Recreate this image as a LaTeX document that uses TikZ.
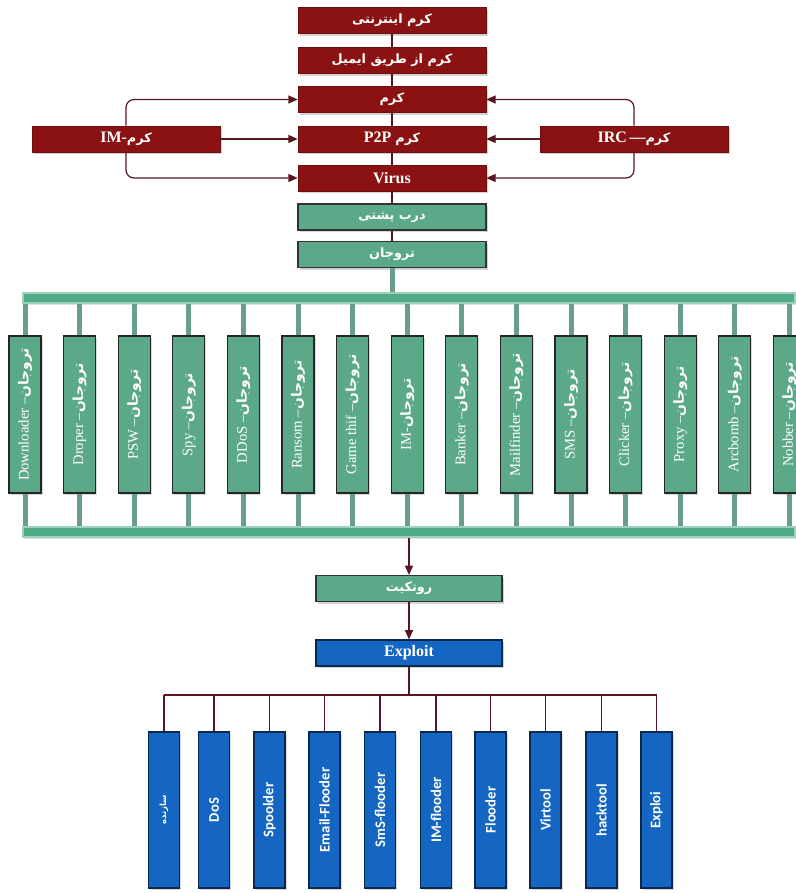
\documentclass[tikz,border=0pt]{standalone}
\usepackage{fontspec}
\usepackage{graphicx}
\setmainfont{Liberation Serif}
\newfontfamily\persfont[Script=Arabic,Scale=0.8]{DejaVu Sans}
\newfontfamily\toolfont{Carlito}
\TeXXeTstate=1
\usetikzlibrary{arrows.meta,shadows}
\definecolor{wormred}{HTML}{8A1212}
\definecolor{trojgreen}{HTML}{5CA98A}
\definecolor{bargreen}{HTML}{4FAC86}
\definecolor{stemgreen}{HTML}{6A9E8C}
\definecolor{exblue}{HTML}{1466C2}
\definecolor{linkred}{HTML}{5A1620}
\newcommand{\fatext}[1]{{\persfont\bfseries\beginR #1\endR}}
\newcommand{\faplain}[1]{{\persfont\beginR #1\endR}}
\newcommand{\trojtag}{{\fontsize{13}{14}\selectfont\fatext{تروجان}}}
\tikzset{
  wormbox/.style={fill=wormred, draw=wormred!80!black, text=white, inner sep=0pt,
    minimum width=141pt, minimum height=19.5pt,
    drop shadow={shadow xshift=1.2pt, shadow yshift=-1.8pt, opacity=0.35},
    font=\bfseries\fontsize{12}{14}\selectfont},
  greenbox/.style={wormbox, fill=trojgreen, draw=black!80, line width=0.8pt},
  bluebox/.style={wormbox, fill=exblue, draw=exblue!40!black, line width=0.8pt},
  trojbox/.style={fill=trojgreen, draw=black!85, line width=0.9pt, text=white, inner sep=0pt,
    minimum width=24pt, minimum height=117.75pt,
    drop shadow={shadow xshift=1.2pt, shadow yshift=-1.8pt, opacity=0.3},
    font=\fontsize{11}{12}\selectfont},
  toolbox/.style={trojbox, fill=exblue, draw=exblue!40!black, minimum width=23.25pt,
    minimum height=117pt, font=\toolfont\bfseries\fontsize{11}{12}\selectfont},
  busbar/.style={fill=bargreen, draw=bargreen!55!white, line width=0.8pt, inner sep=0pt,
    minimum height=7.5pt, drop shadow={shadow xshift=1pt, shadow yshift=-1.5pt, opacity=0.25}},
  linkline/.style={draw=linkred, line width=0.9pt},
  linkarrow/.style={linkline, -{Triangle[length=7pt,width=6pt]}},
  trojstem/.style={draw=stemgreen, line width=3.75pt}
}

\begin{document}
\begin{tikzpicture}[x=0.75pt, y=-0.75pt]
%%%%% START %%%%%
\useasboundingbox (0,0) rectangle (796,893);
\clip (0,0) rectangle (796,893);

% column of worms
\node[wormbox] (w1) at (392, 20.5) {\fatext{کرم اینترنتی}};
\node[wormbox] (w2) at (392, 60.5) {\fatext{کرم از طریق ایمیل}};
\node[wormbox] (w3) at (392, 99.5) {\fatext{کرم}};
\node[wormbox] (w4) at (392, 139) {P2P \faplain{کرم}};
\node[wormbox] (w5) at (392, 178) {Virus};
\node[greenbox] (bd) at (392, 217) {\fatext{درب پشتی}};
\node[greenbox] (tj) at (392, 254.5) {\fatext{تروجان}};

\node[wormbox] (im) at (126, 139) {IM-\fatext{کرم}};
\node[wormbox] (irc) at (634, 139) {IRC\,---\fatext{کرم}};

\draw[linkline] (w1) -- (w2);
\draw[linkline] (w2) -- (w3);
\draw[linkline] (w3) -- (w4);
\draw[linkline] (w4) -- (w5);
\draw[linkline] (w5) -- (bd);
\draw[linkline] (bd) -- (tj);

\draw[linkarrow, rounded corners=6pt] (im.north) |- (w3.west);
\draw[linkarrow] (im.east) -- (w4.west);
\draw[linkarrow, rounded corners=6pt] (im.south) |- (w5.west);
\draw[linkarrow, rounded corners=6pt] (irc.north) |- (w3.east);
\draw[linkarrow] (irc.west) -- (w4.east);
\draw[linkarrow, rounded corners=6pt] (irc.south) |- (w5.east);

% trojan bus
\node[busbar, minimum width=579pt] (topbar) at (409, 298) {};
\node[busbar, minimum width=579pt] (botbar) at (409, 532) {};
\draw[trojstem] (tj.south) -- (tj.south |- topbar.north);

\node[trojbox] (t1) at (25, 414.5) {\rotatebox{90}{Downloader --\trojtag}};
\node[trojbox] (t2) at (79.6, 414.5) {\rotatebox{90}{Droper --\trojtag}};
\node[trojbox] (t3) at (134.2, 414.5) {\rotatebox{90}{PSW --\trojtag}};
\node[trojbox] (t4) at (188.8, 414.5) {\rotatebox{90}{Spy --\trojtag}};
\node[trojbox] (t5) at (243.4, 414.5) {\rotatebox{90}{DDoS --\trojtag}};
\node[trojbox] (t6) at (298, 414.5) {\rotatebox{90}{Ransom --\trojtag}};
\node[trojbox] (t7) at (352.6, 414.5) {\rotatebox{90}{Game thif --\trojtag}};
\node[trojbox] (t8) at (407.2, 414.5) {\rotatebox{90}{IM-\trojtag}};
\node[trojbox] (t9) at (461.8, 414.5) {\rotatebox{90}{Banker --\trojtag}};
\node[trojbox] (t10) at (516.4, 414.5) {\rotatebox{90}{Mailfinder --\trojtag}};
\node[trojbox] (t11) at (571, 414.5) {\rotatebox{90}{SMS --\trojtag}};
\node[trojbox] (t12) at (625.6, 414.5) {\rotatebox{90}{Clicker --\trojtag}};
\node[trojbox] (t13) at (680.2, 414.5) {\rotatebox{90}{Proxy --\trojtag}};
\node[trojbox] (t14) at (734.8, 414.5) {\rotatebox{90}{Arcbomb --\trojtag}};
\node[trojbox] (t15) at (789.4, 414.5) {\rotatebox{90}{Nobber --\trojtag}};

\draw[trojstem] (t1.north) -- (t1.north |- topbar.south) (t1.south) -- (t1.south |- botbar.north);
\draw[trojstem] (t2.north) -- (t2.north |- topbar.south) (t2.south) -- (t2.south |- botbar.north);
\draw[trojstem] (t3.north) -- (t3.north |- topbar.south) (t3.south) -- (t3.south |- botbar.north);
\draw[trojstem] (t4.north) -- (t4.north |- topbar.south) (t4.south) -- (t4.south |- botbar.north);
\draw[trojstem] (t5.north) -- (t5.north |- topbar.south) (t5.south) -- (t5.south |- botbar.north);
\draw[trojstem] (t6.north) -- (t6.north |- topbar.south) (t6.south) -- (t6.south |- botbar.north);
\draw[trojstem] (t7.north) -- (t7.north |- topbar.south) (t7.south) -- (t7.south |- botbar.north);
\draw[trojstem] (t8.north) -- (t8.north |- topbar.south) (t8.south) -- (t8.south |- botbar.north);
\draw[trojstem] (t9.north) -- (t9.north |- topbar.south) (t9.south) -- (t9.south |- botbar.north);
\draw[trojstem] (t10.north) -- (t10.north |- topbar.south) (t10.south) -- (t10.south |- botbar.north);
\draw[trojstem] (t11.north) -- (t11.north |- topbar.south) (t11.south) -- (t11.south |- botbar.north);
\draw[trojstem] (t12.north) -- (t12.north |- topbar.south) (t12.south) -- (t12.south |- botbar.north);
\draw[trojstem] (t13.north) -- (t13.north |- topbar.south) (t13.south) -- (t13.south |- botbar.north);
\draw[trojstem] (t14.north) -- (t14.north |- topbar.south) (t14.south) -- (t14.south |- botbar.north);
\draw[trojstem] (t15.north) -- (t15.north |- topbar.south) (t15.south) -- (t15.south |- botbar.north);

% rootkit and exploit
\node[greenbox, minimum width=139.5pt] (rk) at (409, 588.5) {\fatext{روتکیت}};
\node[bluebox, minimum width=139.5pt] (ex) at (409, 653) {Exploit};
\draw[linkarrow] (rk.north |- botbar.south) -- (rk.north);
\draw[linkarrow] (rk) -- (ex);

% tools
\coordinate (exbus) at (409, 695);
\node[toolbox] (b1) at (164, 810) {\rotatebox{90}{\fontsize{8}{9}\selectfont\fatext{سازنده}}};
\node[toolbox] (b2) at (214, 810) {\rotatebox{90}{DoS}};
\node[toolbox] (b3) at (269.5, 810) {\rotatebox{90}{Spoolder}};
\node[toolbox] (b4) at (324.5, 810) {\rotatebox{90}{Email-Flooder}};
\node[toolbox] (b5) at (380, 810) {\rotatebox{90}{SmS-flooder}};
\node[toolbox] (b6) at (436, 810) {\rotatebox{90}{IM-flooder}};
\node[toolbox] (b7) at (490.5, 810) {\rotatebox{90}{Flooder}};
\node[toolbox] (b8) at (545.5, 810) {\rotatebox{90}{Virtool}};
\node[toolbox] (b9) at (601.5, 810) {\rotatebox{90}{hacktool}};
\node[toolbox] (b10) at (656.5, 810) {\rotatebox{90}{Exploi}};

\draw[linkline] (ex.south) -- (exbus);
\draw[linkline] (b1.north |- exbus) -- (b10.north |- exbus);
\draw[linkline] (b1.north) -- (b1.north |- exbus);
\draw[linkline] (b2.north) -- (b2.north |- exbus);
\draw[linkline] (b3.north) -- (b3.north |- exbus);
\draw[linkline] (b4.north) -- (b4.north |- exbus);
\draw[linkline] (b5.north) -- (b5.north |- exbus);
\draw[linkline] (b6.north) -- (b6.north |- exbus);
\draw[linkline] (b7.north) -- (b7.north |- exbus);
\draw[linkline] (b8.north) -- (b8.north |- exbus);
\draw[linkline] (b9.north) -- (b9.north |- exbus);
\draw[linkline] (b10.north) -- (b10.north |- exbus);

%%%%% END %%%%%
\end{tikzpicture}
\end{document}
